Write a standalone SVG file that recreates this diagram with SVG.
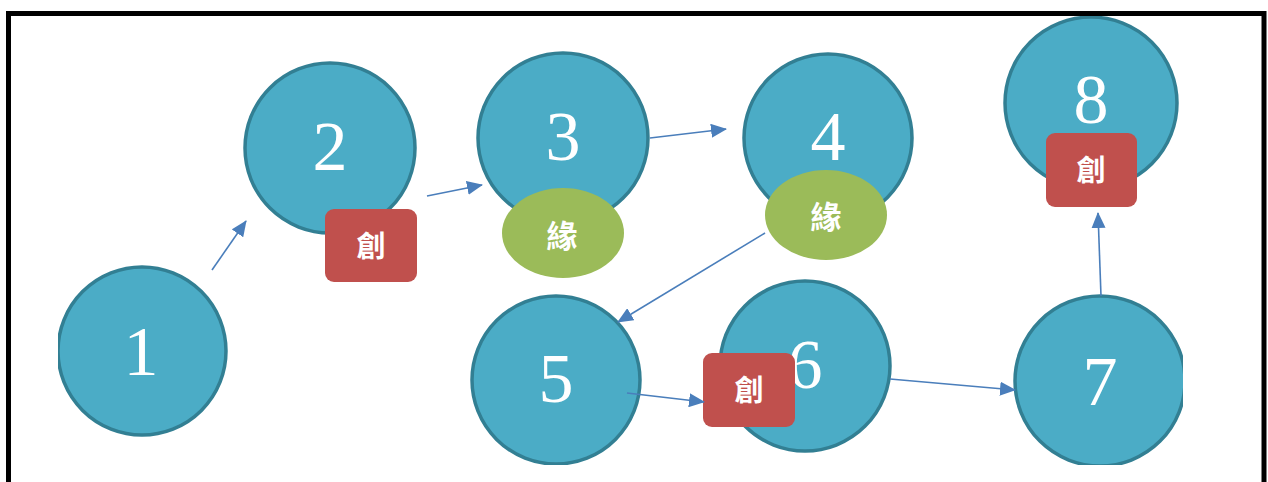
<svg xmlns="http://www.w3.org/2000/svg" width="1268" height="482" viewBox="0 0 1268 482">
<style>
.c{fill:#4BACC6;stroke:#327F93;stroke-width:3.5}
.n{font-family:"Liberation Serif","DejaVu Serif",serif;font-size:70px;fill:#fff;text-anchor:middle}
.r{fill:#C0504D}
.g{fill:#9BBB59}
.b{font-family:"Noto Sans CJK TC","Noto Sans CJK SC",sans-serif;font-weight:bold;fill:#fff;text-anchor:middle}
.a{stroke:#4A7EBB;stroke-width:1.6;fill:none;marker-end:url(#ah)}
</style>
<defs>
<marker id="ah" markerUnits="userSpaceOnUse" markerWidth="16" markerHeight="14" refX="15" refY="7" orient="auto" viewBox="0 0 16 14">
<path d="M0,0 L16,7 L0,14 Z" fill="#4A7EBB"/>
</marker>
<clipPath id="cl"><rect x="58" y="0" width="1125" height="465"/></clipPath>
</defs>
<rect x="0" y="0" width="1268" height="482" fill="#fff"/>
<g clip-path="url(#cl)">
<g id="node1"><circle class="c" cx="142" cy="351" r="84"/><text class="n" x="141" y="375">1</text></g>
<g id="node2"><circle class="c" cx="330" cy="148" r="85"/><text class="n" x="330" y="170">2</text>
<rect class="r" x="325" y="209" width="92" height="73" rx="9"/><text class="b" x="371" y="257" font-size="29">創</text></g>
<g id="node3"><circle class="c" cx="563" cy="138" r="85"/><text class="n" x="563" y="160">3</text>
<ellipse class="g" cx="563" cy="233" rx="61" ry="45"/><text class="b" x="562" y="247" font-size="31">緣</text></g>
<g id="node4"><circle class="c" cx="828" cy="138" r="84"/><text class="n" x="828" y="160">4</text>
<ellipse class="g" cx="826" cy="215" rx="61" ry="45"/><text class="b" x="826" y="228" font-size="31">緣</text></g>
<g id="node5"><circle class="c" cx="556" cy="380" r="84"/><text class="n" x="556" y="402">5</text></g>
<g id="node6"><circle class="c" cx="805" cy="366" r="85"/><text class="n" x="805" y="388">6</text>
<rect class="r" x="703" y="353" width="92" height="74" rx="9"/><text class="b" x="749" y="401" font-size="29">創</text></g>
<g id="node7"><circle class="c" cx="1100" cy="381" r="85"/><text class="n" x="1100" y="405">7</text></g>
<g id="node8"><circle class="c" cx="1091" cy="103" r="86"/><text class="n" x="1091" y="123">8</text>
<rect class="r" x="1046" y="133" width="91" height="74" rx="9"/><text class="b" x="1091" y="181" font-size="29">創</text></g>
</g>
<g id="connectors">
<line class="a" x1="212" y1="270" x2="246" y2="221"/>
<line class="a" x1="427" y1="196" x2="482" y2="185"/>
<line class="a" x1="650" y1="138" x2="726" y2="129"/>
<line class="a" x1="765" y1="233" x2="618" y2="322"/>
<line class="a" x1="627" y1="393" x2="704" y2="402"/>
<line class="a" x1="890" y1="379" x2="1015" y2="390"/>
<line class="a" x1="1101" y1="296" x2="1098" y2="213"/>
</g>
<rect x="8.5" y="13.5" width="1255.5" height="490" fill="none" stroke="#000" stroke-width="5"/>
</svg>
